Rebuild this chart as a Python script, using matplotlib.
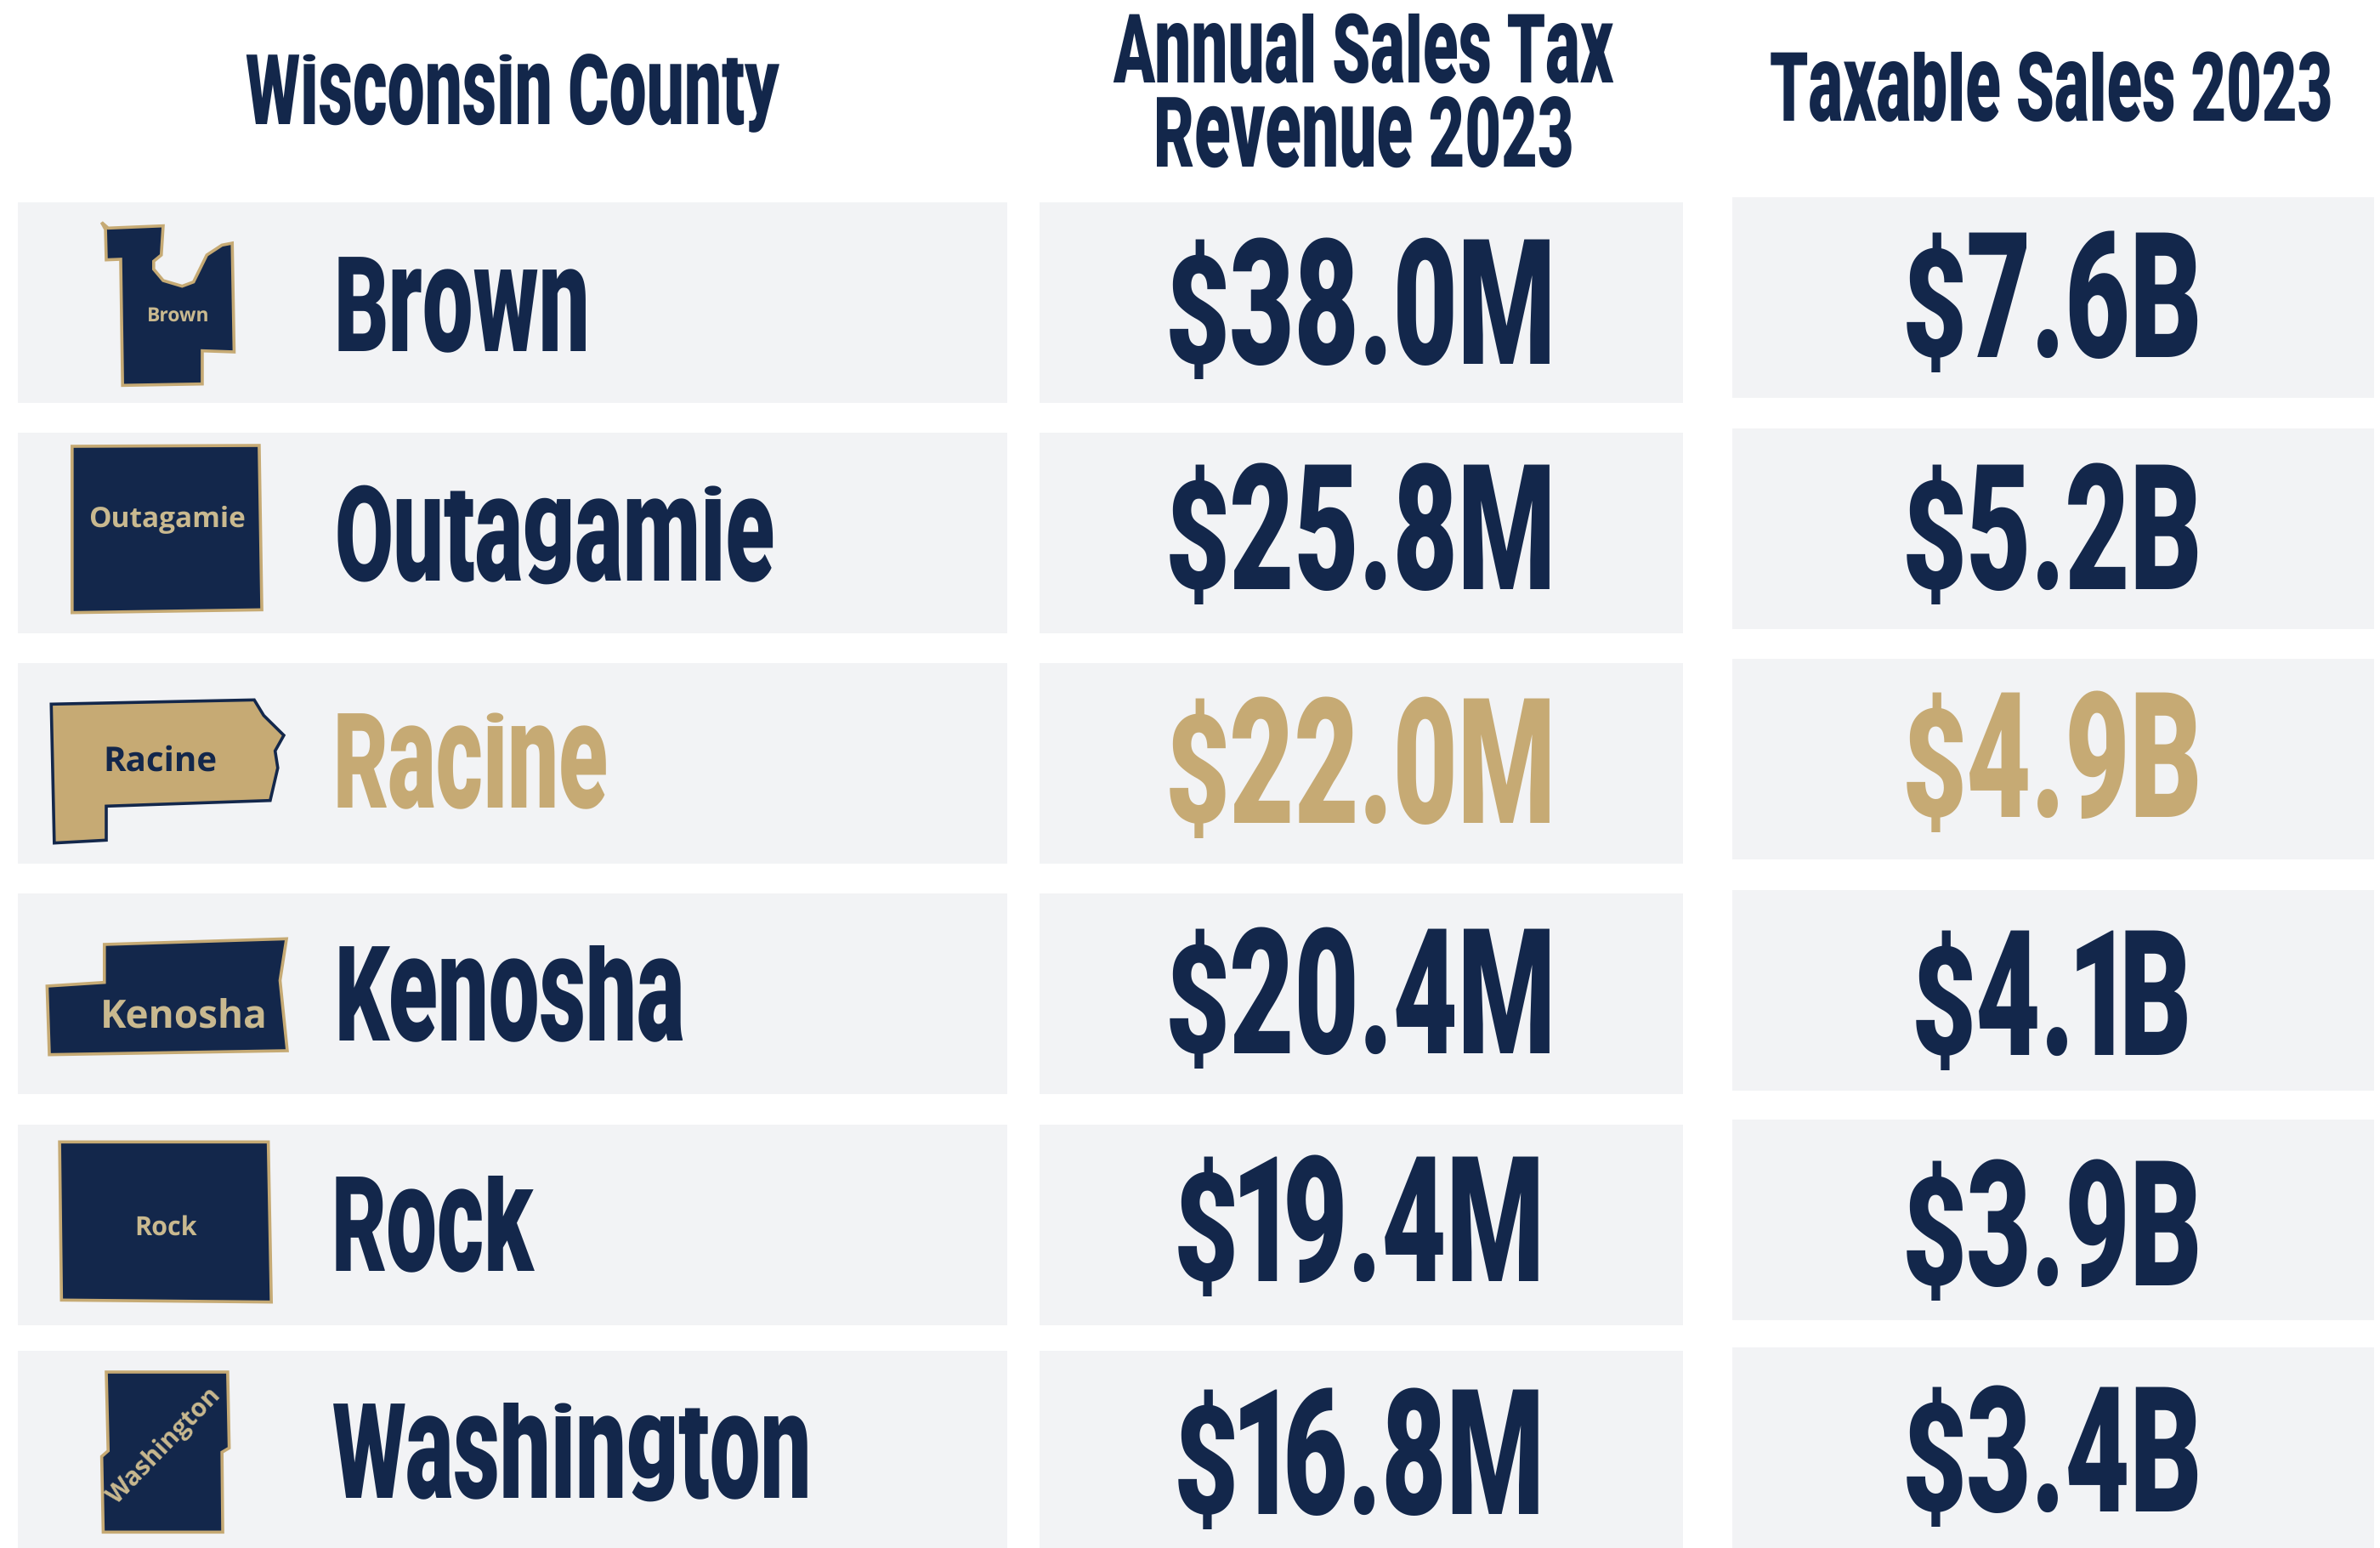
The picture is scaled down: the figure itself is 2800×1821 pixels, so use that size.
import os, tempfile
import matplotlib
matplotlib.use('Agg')
import matplotlib.pyplot as plt
from matplotlib import font_manager as fm
from matplotlib.font_manager import FontProperties
from matplotlib.patches import Rectangle, Polygon
from fontTools.ttLib import TTFont
from fontTools.ttLib.tables import ttProgram
from fontTools.pens.recordingPen import DecomposingRecordingPen
from fontTools.pens.ttGlyphPen import TTGlyphPen

# ---------- data ----------
counties = ['Brown', 'Outagamie', 'Racine', 'Kenosha', 'Rock', 'Washington']
revenue_2023 = ['$38.0M', '$25.8M', '$22.0M', '$20.4M', '$19.4M', '$16.8M']
taxable_2023 = ['$7.6B', '$5.2B', '$4.9B', '$4.1B', '$3.9B', '$3.4B']
highlight = 'Racine'
header_county = 'Wisconsin County'
header_revenue = ['Annual Sales Tax', 'Revenue 2023']
header_taxable = 'Taxable Sales 2023'

# ---------- style ----------
NAVY = '#13274B'
GOLD = '#C6AA74'
LABEL_GOLD = '#C9B98F'
BAND = '#F2F3F5'
UPPER_SQUEEZE = 0.64
LOWER_SQUEEZE = 0.68

# layout, in picture pixels
left_band = (21, 1185)
mid_band = (1223, 1980)
right_band = (2038, 2793)
band_h = 236
mid_tops = [238, 509, 780, 1051, 1323, 1589]
right_tops = [232, 504, 775, 1047, 1317, 1585]
name_x = [393, 394, 392, 394, 390, 391]
name_base = [413, 683, 950, 1223, 1494, 1762]
mid_base = [428, 693, 968, 1239, 1507, 1781]
right_base = [420, 693, 961, 1241, 1512, 1778]
mid_cx = [1601, 1601, 1601, 1601, 1599, 1599]
right_cx = [2414, 2414, 2414, 2414, 2414, 2414]


def display_font():
    """A reshaped copy of Roboto Black (narrow, tall x-height), so text stays real text."""
    src = fm.findfont(FontProperties(family='Roboto', weight=900))
    font = TTFont(src)
    if 'fvar' in font:
        from fontTools.varLib import instancer
        limits = {a.axisTag: (900 if a.axisTag == 'wght' else a.defaultValue)
                  for a in font['fvar'].axes}
        font = instancer.instantiateVariableFont(font, limits)
    glyf = font['glyf']
    cmap = font.getBestCmap()
    gs = font.getGlyphSet()
    # flatten composites
    new = {}
    for name in glyf.keys():
        if glyf[name].isComposite():
            rp = DecomposingRecordingPen(gs)
            gs[name].draw(rp)
            tp = TTGlyphPen(None)
            rp.replay(tp)
            new[name] = tp.glyph()
    for name, g in new.items():
        glyf[name] = g

    cap = glyf[cmap[ord('H')]].yMax
    xh = glyf[cmap[ord('x')]].yMax
    asc = glyf[cmap[ord('h')]].yMax
    xh_to = cap * 0.865
    asc_to = cap * 1.01
    lower = {cmap[c] for c in range(ord('a'), ord('z') + 1)}
    gname = cmap[ord('g')]
    yname = cmap[ord('y')]
    pname = cmap[ord('p')]
    dollar = cmap[ord('$')]
    one = cmap[ord('1')]
    hmtx = font['hmtx']

    def ymap(name, g):
        if name == dollar:
            lo, hi = g.yMin, g.yMax
            return lambda y: -0.123 * cap + (y - lo) * (1.123 * cap) / (hi - lo)
        if name in (gname, yname, pname):
            lo = g.yMin
            to = -0.04 * cap if name == gname else -0.12 * cap
            return lambda y: to + (y - lo) * (xh_to - to) / (xh - lo)
        if name in lower:
            def f(y):
                if y <= xh:
                    return y * xh_to / xh
                return xh_to + (y - xh) * (asc_to - xh_to) / (asc - xh)
            return f
        return lambda y: y

    for name in glyf.keys():
        g = glyf[name]
        sx = LOWER_SQUEEZE if name in lower else UPPER_SQUEEZE
        adv, lsb = hmtx.metrics[name]
        if g.numberOfContours > 0:
            fy = ymap(name, g)
            coords = g.coordinates
            for i in range(len(coords)):
                x, y = coords[i]
                coords[i] = (int(round(x * sx)), int(round(fy(y))))
            g.program = ttProgram.Program()
            g.program.fromBytecode(b'')
            g.recalcBounds(glyf)
        new_adv = int(round(adv * sx))
        new_lsb = int(round(lsb * sx))
        if name == one:  # the reference font has a proportional, narrow 1
            dx = 30 - g.xMin
            coords = g.coordinates
            for i in range(len(coords)):
                x, y = coords[i]
                coords[i] = (x + dx, y)
            g.recalcBounds(glyf)
            new_adv = g.xMax + 70
            new_lsb = g.xMin
        hmtx.metrics[name] = (new_adv, new_lsb)
    for tag in ('kern', 'fpgm', 'prep', 'cvt ', 'hdmx', 'VDMX', 'LTSH', 'GPOS', 'GSUB', 'GDEF'):
        if tag in font:
            del font[tag]
    out = os.path.join(tempfile.mkdtemp(), 'display.ttf')
    font.save(out)
    return out


plt.rcParams['text.hinting'] = 'no_hinting'
display = FontProperties(fname=display_font())


def dtext(ax, x, y, s, size, color=NAVY, ha='center'):
    fp = display.copy()
    fp.set_size(size)
    ax.text(x, y, s, fontproperties=fp, color=color, ha=ha, va='baseline')


icons = {
    'Brown': dict(fill=NAVY, edge=GOLD, y0=220, pts=[
        (268, 125), (285, 145), (430, 137), (425, 240), (405, 262), (405, 290), (430, 330),
        (480, 350), (510, 335), (545, 240), (585, 205), (612, 198), (617, 582), (533, 578),
        (533, 695), (323, 700), (318, 255), (280, 257), (278, 150)],
        label=(210, 372), size=16.5, tc=LABEL_GOLD, rot=0),
    'Outagamie': dict(fill=NAVY, edge=GOLD, y0=220, pts=[
        (190, 915), (683, 912), (690, 1492), (190, 1502)],
        label=(196, 611), size=24, tc=LABEL_GOLD, rot=0),
    'Racine': dict(fill=GOLD, edge=NAVY, y0=760, pts=[
        (135, 205), (670, 190), (695, 245), (748, 315), (725, 370), (732, 430), (712, 545),
        (280, 565), (280, 685), (143, 695)],
        label=(188, 896), size=29, tc=NAVY, rot=0),
    'Kenosha': dict(fill=NAVY, edge=GOLD, y0=760, pts=[
        (275, 1053), (755, 1033), (738, 1180), (757, 1428), (130, 1442), (124, 1200), (275, 1187)],
        label=(216, 1198), size=33, tc=LABEL_GOLD, rot=0),
    'Rock': dict(fill=NAVY, edge=GOLD, y0=1300, pts=[
        (157, 130), (707, 130), (715, 695), (162, 688)],
        label=(195, 1445), size=22, tc=LABEL_GOLD, rot=0),
    'Washington': dict(fill=NAVY, edge=GOLD, y0=1300, pts=[
        (280, 942), (600, 942), (604, 1210), (585, 1225), (587, 1507), (272, 1507),
        (268, 1240), (285, 1220)],
        label=(194, 1702), size=21.5, tc=LABEL_GOLD, rot=46),
}

fig = plt.figure(figsize=(28, 18.21), dpi=100, facecolor='white')
ax = fig.add_axes([0, 0, 1, 1])
ax.set_xlim(0, 2800)
ax.set_ylim(1821, 0)
ax.axis('off')

for i, county in enumerate(counties):
    col = GOLD if county == highlight else NAVY
    ax.add_patch(Rectangle((left_band[0], mid_tops[i]), left_band[1] - left_band[0], band_h,
                           fc=BAND, ec='none'))
    ax.add_patch(Rectangle((mid_band[0], mid_tops[i]), mid_band[1] - mid_band[0], band_h,
                           fc=BAND, ec='none'))
    ax.add_patch(Rectangle((right_band[0], right_tops[i]), right_band[1] - right_band[0], band_h,
                           fc=BAND, ec='none'))
    dtext(ax, name_x[i], name_base[i], county, 112.5, col, ha='left')
    dtext(ax, mid_cx[i], mid_base[i], revenue_2023[i], 148, col)
    dtext(ax, right_cx[i], right_base[i], taxable_2023[i], 148, col)

    ic = icons[county]
    xy = [(x / 2.24, ic['y0'] + y / 3) for x, y in ic['pts']]
    ax.add_patch(Polygon(xy, closed=True, fc=ic['fill'], ec=ic['edge'], lw=2.6, joinstyle='miter'))
    ax.text(ic['label'][0], ic['label'][1], county, family='Open Sans', weight='bold',
            fontsize=ic['size'], color=ic['tc'], ha='center', va='center',
            rotation=ic['rot'], rotation_mode='anchor')

dtext(ax, 603, 146, header_county, 83)
dtext(ax, 1604, 97, header_revenue[0], 81)
dtext(ax, 1604, 197, header_revenue[1], 83)
dtext(ax, 2413, 142, header_taxable, 81)

fig.savefig('out.png', dpi=100, facecolor='white')
